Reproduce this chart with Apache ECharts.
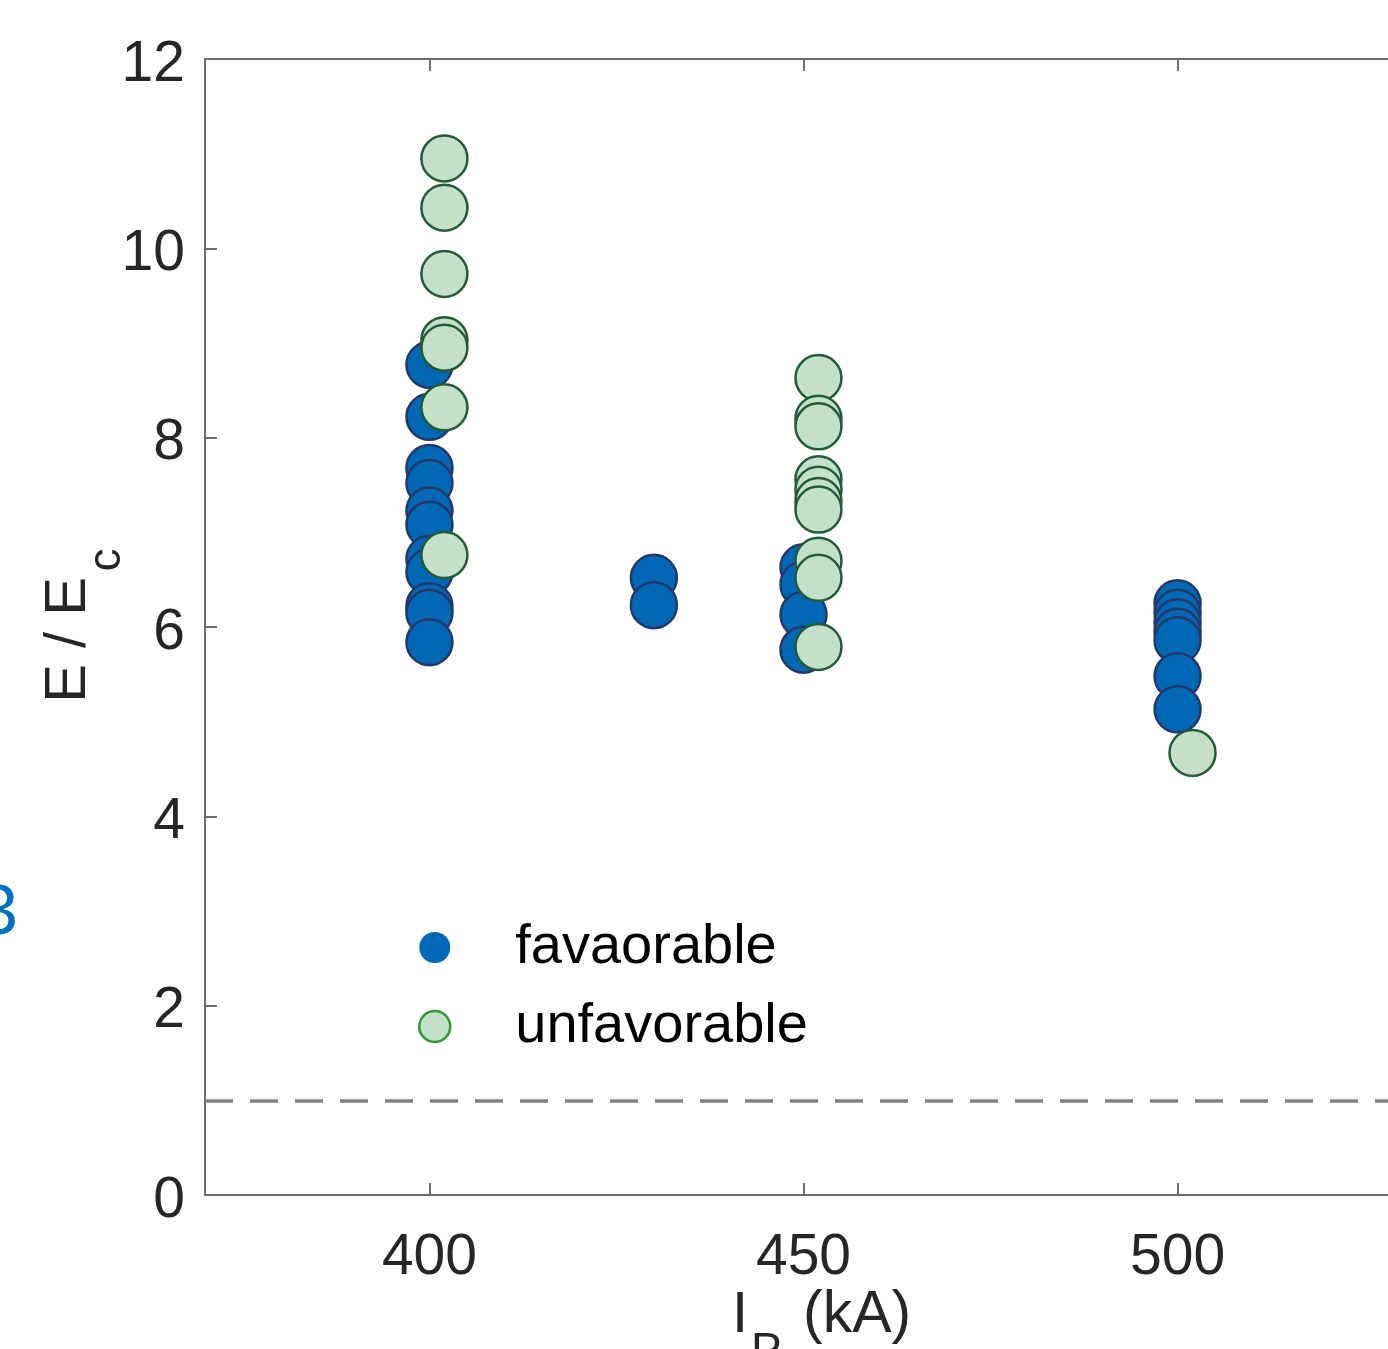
<!DOCTYPE html>
<html>
<head>
<meta charset="utf-8">
<script src="https://cdn.jsdelivr.net/npm/echarts@6/dist/echarts.min.js"></script>
<style>
html,body{margin:0;padding:0;background:#fff;}
#c{width:1388px;height:1349px;}
</style>
</head>
<body>
<div id="c"></div>
<script>
// ---- data ----
const xTicks = [400, 450, 500];
const yTicks = [0, 2, 4, 6, 8, 10, 12];
const favorableX = [400, 430, 450, 500];
const favorableY = [
  [8.77, 8.22, 7.68, 7.52, 7.23, 7.08, 6.72, 6.58, 6.22, 6.15, 5.84],
  [6.52, 6.23],
  [6.63, 6.45, 6.13, 5.76],
  [6.25, 6.15, 6.05, 5.95, 5.86, 5.48, 5.13]
];
const unfavorableX = [402, 452, 502];
const unfavorableY = [
  [10.95, 10.43, 9.73, 9.03, 8.95, 8.32, 6.76],
  [8.63, 8.20, 8.12, 7.56, 7.45, 7.33, 7.24, 6.70, 6.52, 5.79],
  [4.67]
];
const thresholdY = 1;
const legendNames = ['favaorable', 'unfavorable'];

function pairs(xs, ys) {
  const out = [];
  xs.forEach((x, i) => ys[i].forEach(y => out.push([x, y])));
  return out;
}

const FONT = '"Liberation Sans", Arial, Helvetica, sans-serif';
const TXT = '#262626';
const AX = '#6e6e6e';
const BLUE = '#0068B5';
const GREEN = '#c5e0c8';

const chart = echarts.init(document.getElementById('c'), null, {renderer: 'canvas'});
chart.setOption({
  animation: false,
  backgroundColor: '#fff',
  grid: {left: 205, top: 59, right: -14, bottom: 154, containLabel: false, outerBoundsMode: 'none'},
  xAxis: [{
    type: 'value', min: 370, max: 530, interval: 10, position: 'bottom',
    axisLine: {show: true, onZero: false, lineStyle: {color: AX, width: 2}},
    axisTick: {show: true, inside: true, length: 12, customValues: xTicks, lineStyle: {color: AX, width: 2}},
    axisLabel: {show: true, customValues: xTicks, margin: 35, fontSize: 57, fontFamily: FONT, color: TXT},
    splitLine: {show: false}
  }, {
    type: 'value', min: 370, max: 530, interval: 10, position: 'top',
    axisLine: {show: true, onZero: false, lineStyle: {color: AX, width: 2}},
    axisTick: {show: true, inside: true, length: 12, customValues: xTicks, lineStyle: {color: AX, width: 2}},
    axisLabel: {show: false},
    splitLine: {show: false}
  }],
  yAxis: [{
    type: 'value', min: 0, max: 12, interval: 2,
    axisLine: {show: true, onZero: false, lineStyle: {color: AX, width: 2}},
    axisTick: {show: true, inside: true, length: 12, customValues: yTicks, lineStyle: {color: AX, width: 2}},
    axisLabel: {show: true, customValues: yTicks, margin: 20, fontSize: 57, fontFamily: FONT, color: TXT,
                verticalAlign: 'top', lineHeight: 12},
    splitLine: {show: false}
  }],
  legend: {
    orient: 'vertical', left: 418, top: 917, padding: 0, itemWidth: 31, itemHeight: 31, itemGap: 18,
    icon: 'circle',
    textStyle: {fontSize: 56, fontFamily: FONT, color: '#000', lineHeight: 57, padding: [4, 0, 0, 60]},
    selectedMode: false,
    data: [
      {name: legendNames[0], itemStyle: {color: BLUE, borderWidth: 0}},
      {name: legendNames[1], itemStyle: {color: GREEN, borderColor: '#2b9a33', borderWidth: 2.5}}
    ]
  },
  series: [{
    name: legendNames[0], type: 'scatter', symbol: 'circle', symbolSize: 46,
    itemStyle: {color: BLUE, borderColor: '#24386a', borderWidth: 2.5, opacity: 1},
    emphasis: {disabled: true},
    data: pairs(favorableX, favorableY),
    markLine: {
      silent: true, symbol: 'none', label: {show: false},
      lineStyle: {color: '#808080', width: 3.5, type: [28, 17]},
      data: [{yAxis: thresholdY}]
    },
    z: 2
  }, {
    name: legendNames[1], type: 'scatter', symbol: 'circle', symbolSize: 46,
    itemStyle: {color: GREEN, borderColor: '#225c36', borderWidth: 2.5, opacity: 1},
    emphasis: {disabled: true},
    data: pairs(unfavorableX, unfavorableY),
    z: 3
  }],
  graphic: [
    {type: 'text', x: 69, y: 640, rotation: Math.PI / 2,
     style: {text: 'E / E', fontSize: 58, fontFamily: FONT, fill: TXT, align: 'center', verticalAlign: 'middle'}},
    {type: 'text', x: 107, y: 560, rotation: Math.PI / 2,
     style: {text: 'c', fontSize: 46, fontFamily: FONT, fill: TXT, align: 'center', verticalAlign: 'middle'}},
    {type: 'text', x: 732, y: 1316,
     style: {text: 'I', fontSize: 58, fontFamily: FONT, fill: TXT, align: 'left', verticalAlign: 'middle'}},
    {type: 'text', x: 751, y: 1352,
     style: {text: 'P', fontSize: 46, fontFamily: FONT, fill: TXT, align: 'left', verticalAlign: 'middle'}},
    {type: 'text', x: 803, y: 1316,
     style: {text: '(kA)', fontSize: 59, fontFamily: FONT, fill: TXT, align: 'left', verticalAlign: 'middle'}},
    {type: 'text', x: 18, y: 914,
     style: {text: '3', fontSize: 71, fontFamily: FONT, fill: '#0070C0', align: 'right', verticalAlign: 'middle'}}
  ]
});
</script>
</body>
</html>
